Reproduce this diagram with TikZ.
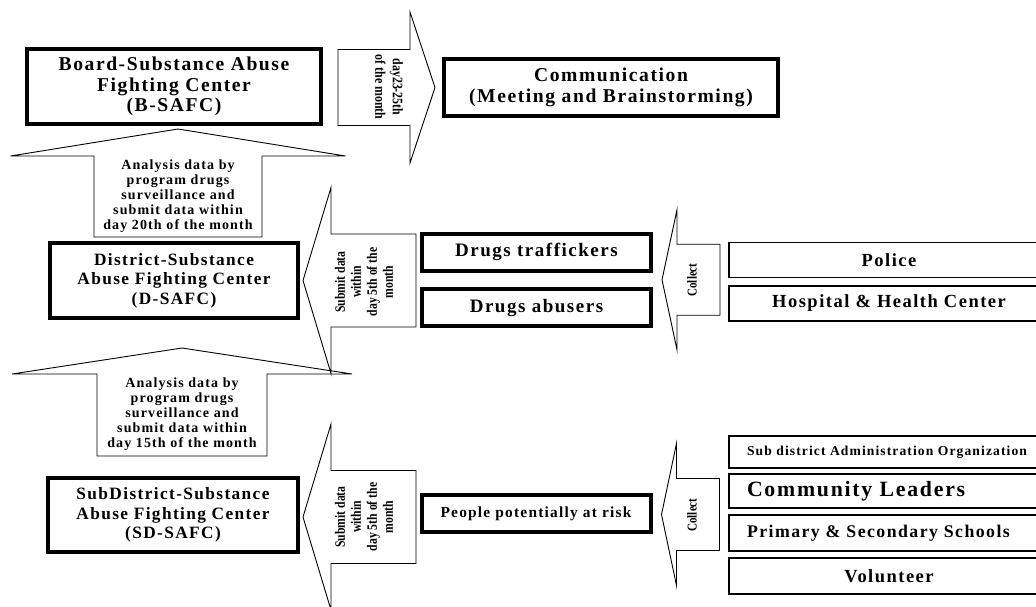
\documentclass[tikz,border=0pt]{standalone}
\usepackage{fontspec}
\setmainfont{Liberation Serif}[LetterSpace=8]
\newfontfamily\narrowfont{Liberation Serif}[FakeStretch=0.82]
\usetikzlibrary{calc}

\tikzstyle{center} = [rectangle, draw=black, line width=4pt, fill=white, align=center, inner sep=0pt, font=\bfseries\fontsize{17.3}{19.5}\selectfont]
\tikzstyle{group} = [rectangle, draw=black, line width=4pt, fill=white, align=center, inner sep=0pt, minimum width=229, minimum height=37, font=\bfseries\fontsize{19}{21}\selectfont]
\tikzstyle{source} = [rectangle, draw=black, line width=1.8pt, fill=white, align=center, inner sep=0pt, minimum width=320, font=\bfseries\fontsize{18.5}{20}\selectfont]
\tikzstyle{leftsource} = [source, text width=284, align=left]
\tikzstyle{blockarrow} = [draw=black, line width=0.9pt, fill=white, line join=miter]
\tikzstyle{uptext} = [align=center, font=\bfseries\fontsize{14}{15}\selectfont]
\tikzstyle{sidetext} = [align=center, rotate=90, font=\narrowfont\bfseries\fontsize{14.3}{16}\selectfont]

\begin{document}
\begin{tikzpicture}[x=1pt, y=-1pt, node distance=43.5pt]
    \useasboundingbox (0,0) rectangle (1036,606);

    %nodes
    \node (bsafc) [center, minimum width=294, minimum height=75, font=\bfseries\fontsize{19.6}{20.5}\selectfont] at (174,86.5) {Board-Substance Abuse\\Fighting Center\\(B-SAFC)};
    \node (comm) [center, minimum width=334, minimum height=57, font=\bfseries\fontsize{19.6}{20.5}\selectfont] at (611,87.5) {Communication\\(Meeting and Brainstorming)};
    \node (dsafc) [center, minimum width=248, minimum height=75] at (174,280.5) {District-Substance\\Abuse Fighting Center\\(D-SAFC)};
    \node (sdsafc) [center, minimum width=250, minimum height=74] at (173,515) {SubDistrict-Substance\\Abuse Fighting Center\\(SD-SAFC)};

    \node (traff) [group] at (536.5,252) {Drugs traffickers};
    \node (abus) [group] at (536.5,307.5) {Drugs abusers};
    \node (people) [group, font=\bfseries\fontsize{15.4}{17}\selectfont] at (536,513.5) {People potentially at risk};

    \node (police) [source, minimum height=35] at (889,260) {Police};
    \node (hosp) [source, minimum height=35, below of=police] {Hospital \& Health Center};

    \node (subd) [leftsource, minimum height=32, font=\bfseries\fontsize{13.6}{15}\selectfont] at (889,452) {Sub district Administration Organization};
    \node (comml) [leftsource, minimum height=34, font=\bfseries\fontsize{21.8}{23}\selectfont] at (889,491) {Community Leaders};
    \node (prim) [leftsource, minimum height=36, font=\bfseries\fontsize{17.8}{19}\selectfont] at (889,533) {Primary \& Secondary Schools};
    \node (volu) [source, minimum height=36] at (889,576) {Volunteer};

    %arrows
    \draw [blockarrow] ($(comm.west)+(-7,0)$) -- ++(-25,-75.5) -- ++(0,37.5) -- ++(-72,0) -- ++(0,76) -- ++(72,0) -- ++(0,37.5) -- cycle;
    \draw [blockarrow] ($(bsafc.south)+(4,3)$) -- ++(167.5,27) -- ++(-83.5,0) -- ++(0,81) -- ++(-168,0) -- ++(0,-81) -- ++(-83.5,0) -- cycle;
    \draw [blockarrow] ($(dsafc.south)+(8,28)$) -- ++(170,26) -- ++(-85,0) -- ++(0,82) -- ++(-170,0) -- ++(0,-82) -- ++(-85,0) -- cycle;
    \draw [blockarrow] ($(dsafc.east)+(3,0)$) -- ++(28,-93) -- ++(0,46.5) -- ++(85,0) -- ++(0,93) -- ++(-85,0) -- ++(0,46.5) -- cycle;
    \draw [blockarrow] ($(sdsafc.east)+(3,2)$) -- ++(28,-93) -- ++(0,46.5) -- ++(85,0) -- ++(0,93) -- ++(-85,0) -- ++(0,46.5) -- cycle;
    \draw [blockarrow] ($(traff.east)!0.5!(abus.east)+(9,0)$) -- ++(15,-70) -- ++(0,34.5) -- ++(43,0) -- ++(0,71) -- ++(-43,0) -- ++(0,34.5) -- cycle;
    \draw [blockarrow] ($(people.east)+(9,1)$) -- ++(15,-71) -- ++(0,35) -- ++(43,0) -- ++(0,72) -- ++(-43,0) -- ++(0,35) -- cycle;

    %arrow labels
    \node (daytext) [sidetext, rotate=180, font=\narrowfont\bfseries\fontsize{14.5}{17.5}\selectfont] at (389,87) {day23-25th\\of the month};
    \node (uptext1) [uptext] at (178,196) {Analysis data by\\program drugs\\surveillance and\\submit data within\\day 20th of the month};
    \node (uptext2) [uptext] at (182,414) {Analysis data by\\program drugs\\surveillance and\\submit data within\\day 15th of the month};
    \node (subtext1) [sidetext] at (364,282) {Submit data\\within\\day 5th of the\\month};
    \node (subtext2) [sidetext] at (364,517) {Submit data\\within\\day 5th of the\\month};
    \node (coltext1) [sidetext, font=\narrowfont\bfseries\fontsize{13.5}{15}\selectfont] at (692,280) {Collect};
    \node (coltext2) [sidetext, font=\narrowfont\bfseries\fontsize{13.5}{15}\selectfont] at (692,515) {Collect};
\end{tikzpicture}
\end{document}
